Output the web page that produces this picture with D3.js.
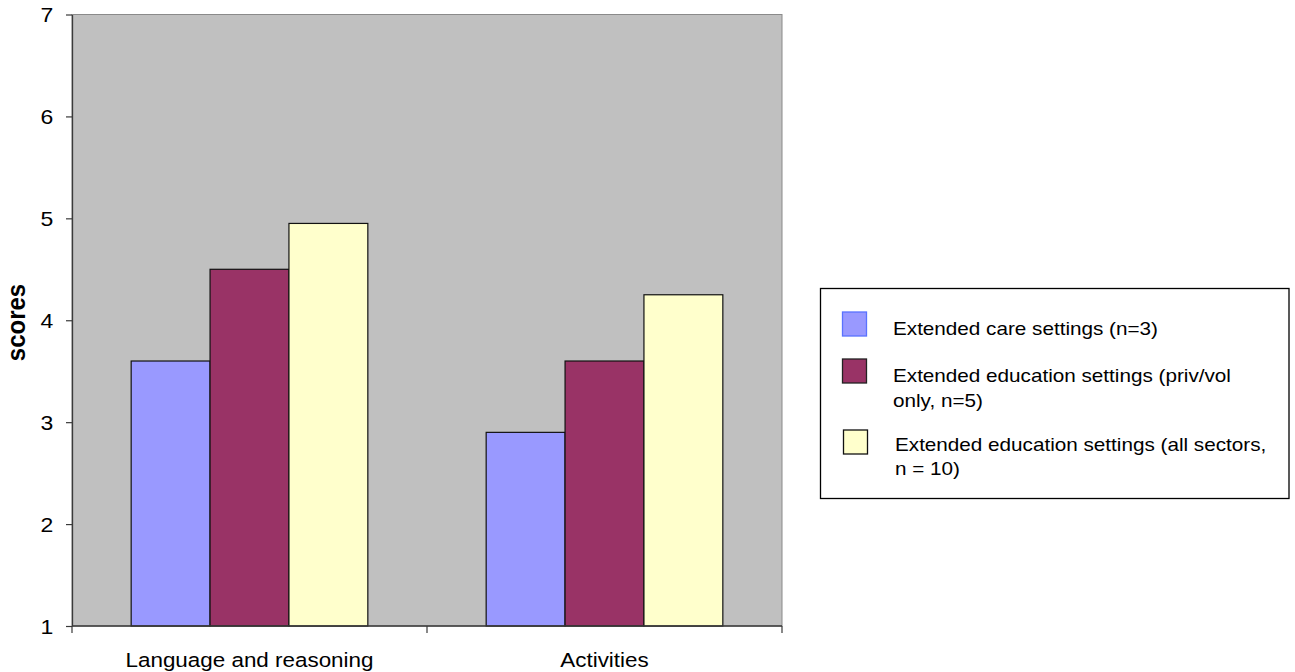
<!DOCTYPE html>
<html>
<head>
<meta charset="utf-8">
<script src="https://cdn.jsdelivr.net/npm/d3@7/dist/d3.min.js"></script>
<style>
  html, body { margin: 0; padding: 0; background: #ffffff; }
  svg { display: block; }
  text { font-family: "Liberation Sans", Arial, sans-serif; fill: #000; }
</style>
</head>
<body>
<svg id="chart" width="1295" height="672"></svg>
<script>
// Mean scores per category for each group of settings
const categories = ["Language and reasoning", "Activities"];
const seriesNames = [
  "Extended care settings (n=3)",
  "Extended education settings (priv/vol only, n=5)",
  "Extended education settings (all sectors, n = 10)"
];
const careScores = [3.6, 2.9];
const privVolScores = [4.5, 3.6];
const allSectorScores = [4.95, 4.25];
const yTicks = [1, 2, 3, 4, 5, 6, 7];
const legendLines = [
  ["Extended care settings (n=3)"],
  ["Extended education settings (priv/vol", "only, n=5)"],
  ["Extended education settings (all sectors,", "n = 10)"]
];

const seriesValues = [careScores, privVolScores, allSectorScores];
const fills = ["#9999FF", "#993366", "#FFFFCC"];
const swatchStrokes = ["#5a72ff", "#222222", "#111111"];
const SX = 1.15; // horizontal stretch of the lettering

const svg = d3.select("#chart");
const plot = { left: 72, right: 782, top: 14.5, bottom: 626 };

const y = d3.scaleLinear().domain([1, 7]).range([plot.bottom, plot.top]);
const x0 = d3.scaleBand().domain(categories).range([plot.left, plot.right]).padding(0);
// Excel-style gap width of 150% between category groups
const groupW = x0.bandwidth() * 3 / 4.5;
const groupOff = (x0.bandwidth() - groupW) / 2;
const x1 = d3.scaleBand().domain(d3.range(seriesNames.length)).range([groupOff, groupOff + groupW]).padding(0);

// plot area background
svg.append("rect")
  .attr("x", plot.left).attr("y", plot.top)
  .attr("width", plot.right - plot.left).attr("height", plot.bottom - plot.top)
  .attr("fill", "#C0C0C0")
  .attr("stroke", "#8a8a8a").attr("stroke-width", 1);

// bars
const groups = svg.append("g").selectAll("g")
  .data(categories)
  .join("g")
  .attr("transform", c => `translate(${x0(c)},0)`);

groups.selectAll("rect")
  .data((c, ci) => seriesValues.map((vals, si) => ({ si, v: vals[ci] })))
  .join("rect")
  .attr("x", d => x1(d.si))
  .attr("y", d => y(d.v))
  .attr("width", x1.bandwidth())
  .attr("height", d => y(1) - y(d.v))
  .attr("fill", d => fills[d.si])
  .attr("stroke", "#111")
  .attr("stroke-width", 1.2);

// y axis
const yAxis = svg.append("g")
  .attr("transform", `translate(${plot.left},0)`)
  .call(d3.axisLeft(y).tickValues(yTicks).tickFormat(d3.format("d")).tickSize(6).tickSizeOuter(0));
yAxis.select(".domain").attr("stroke", "#3a3a3a").attr("stroke-width", 1.3);
yAxis.selectAll(".tick line").attr("stroke", "#3a3a3a").attr("stroke-width", 1.2);
yAxis.selectAll(".tick text")
  .attr("x", -18.7 / SX)
  .attr("dy", "0.36em")
  .attr("transform", `scale(${SX},1)`)
  .style("font-family", "'Liberation Sans', Arial, sans-serif")
  .style("font-size", "20px")
  .attr("fill", "#000");

// x axis line and category boundary ticks
svg.append("line")
  .attr("x1", plot.left).attr("x2", plot.right)
  .attr("y1", y(1)).attr("y2", y(1))
  .attr("stroke", "#3a3a3a").attr("stroke-width", 1.3);

const boundaries = categories.map(c => x0(c)).concat([x0(categories[categories.length - 1]) + x0.bandwidth()]);
svg.append("g").selectAll("line")
  .data(boundaries)
  .join("line")
  .attr("x1", d => d).attr("x2", d => d)
  .attr("y1", y(1)).attr("y2", y(1) + 7)
  .attr("stroke", "#3a3a3a").attr("stroke-width", 1.2);

// category labels
svg.append("g").selectAll("text")
  .data(categories)
  .join("text")
  .attr("transform", c => `translate(${x0(c) + x0.bandwidth() / 2},${y(1) + 41}) scale(${SX},1)`)
  .attr("text-anchor", "middle")
  .style("font-size", "19.5px")
  .text(c => c);

// y axis title
svg.append("text")
  .attr("transform", `translate(25,322.5) scale(1.05,1) rotate(-90)`)
  .attr("text-anchor", "middle")
  .style("font-size", "24px")
  .style("font-weight", "bold")
  .text("scores");

// legend
const legend = svg.append("g");
legend.append("rect")
  .attr("x", 820.5).attr("y", 288.5)
  .attr("width", 468.5).attr("height", 210)
  .attr("fill", "#fff")
  .attr("stroke", "#000").attr("stroke-width", 1.3);

const swatchY = [312, 359, 430];
const swatchX = [842.5, 842.5, 843.5];
const textX = [893, 893, 895];
const textY = [335, 382.3, 450.7];

legend.selectAll("rect.key")
  .data(seriesNames)
  .join("rect")
  .attr("class", "key")
  .attr("x", (d, i) => swatchX[i])
  .attr("y", (d, i) => swatchY[i])
  .attr("width", 24).attr("height", 24)
  .attr("fill", (d, i) => fills[i])
  .attr("stroke", (d, i) => swatchStrokes[i])
  .attr("stroke-width", 1.3);

legend.selectAll("text.item")
  .data(legendLines)
  .join("text")
  .attr("class", "item")
  .attr("transform", (d, i) => `translate(${textX[i]},${textY[i]}) scale(${SX},1)`)
  .style("font-size", "18px")
  .each(function (lines) {
    d3.select(this).selectAll("tspan")
      .data(lines)
      .join("tspan")
      .attr("x", 0)
      .attr("y", (l, j) => j * 24.3)
      .text(l => l);
  });
</script>
</body>
</html>
